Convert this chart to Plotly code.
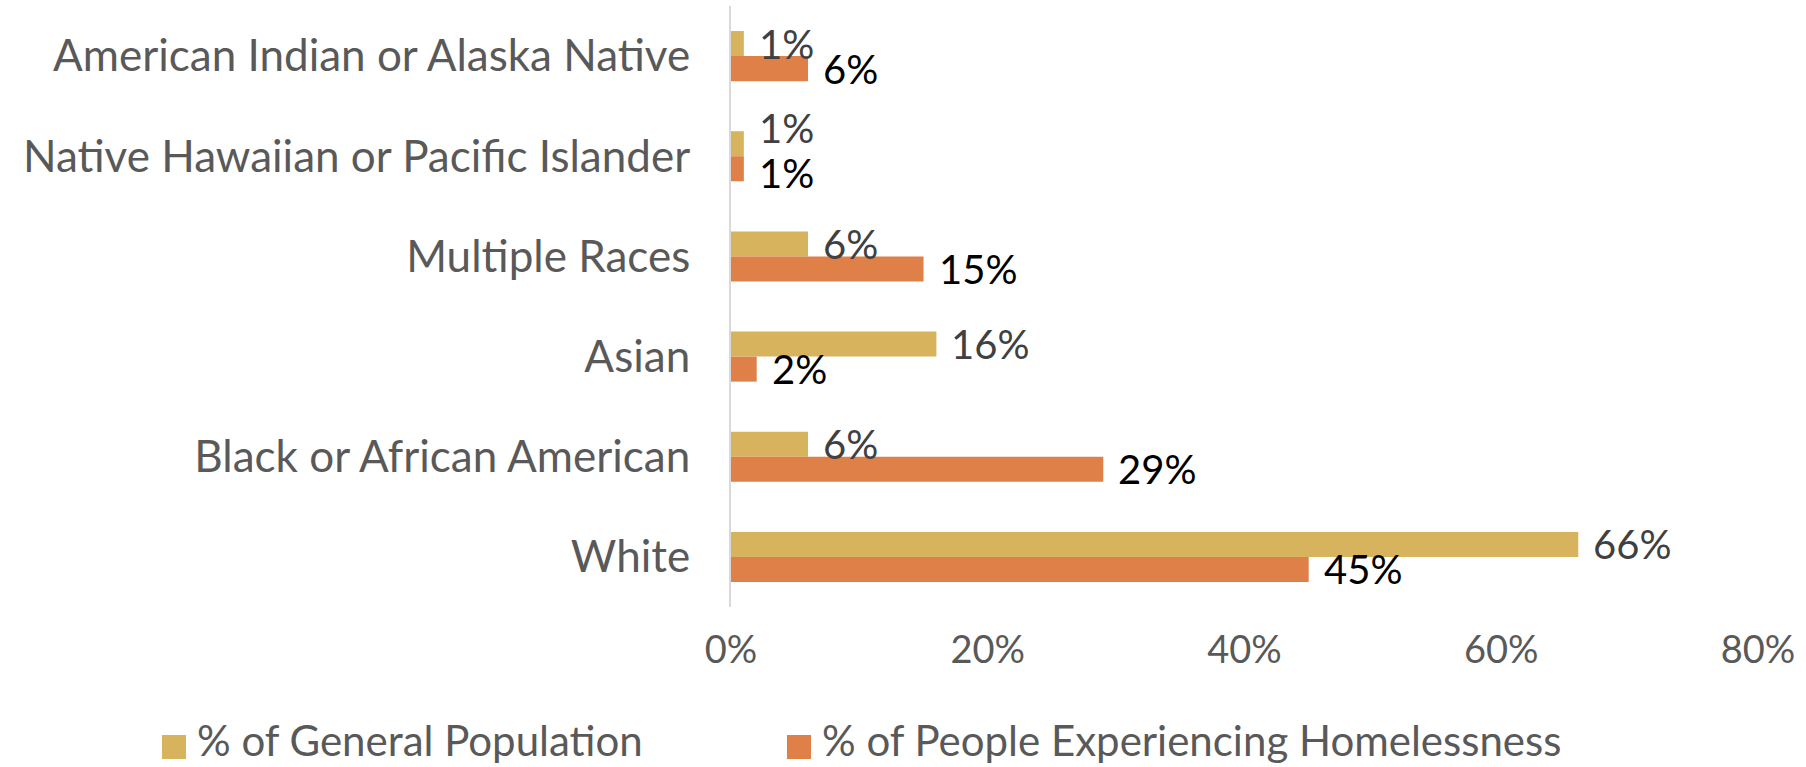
import plotly.graph_objects as go

categories = ["American Indian or Alaska Native", "Native Hawaiian or Pacific Islander",
              "Multiple Races", "Asian", "Black or African American", "White"]
general_population = [0.01, 0.01, 0.06, 0.16, 0.06, 0.66]
homelessness = [0.06, 0.01, 0.15, 0.02, 0.29, 0.45]
series_names = ["% of General Population", "% of People Experiencing Homelessness"]
x_ticks = [0, 0.2, 0.4, 0.6, 0.8]
x_tick_labels = ["0%", "20%", "40%", "60%", "80%"]

FONT = "Lato"
GOLD = "#D8B35D"
ORANGE = "#DE8048"

W, H = 1806, 767
L, R, T, B = 731, 48, 6, 160
PW, PH = W - L - R, H - T - B
BARGAP = 0.5
# offset of each bar centre from its category centre (px): slot * (1-gap) / 4
BAR_HALF = PH / len(categories) * (1 - BARGAP) / 4

fig = go.Figure()
fig.add_trace(go.Bar(
    y=categories, x=general_population, orientation="h",
    name=series_names[0], marker=dict(color=GOLD, line=dict(width=0)),
))
fig.add_trace(go.Bar(
    y=categories, x=homelessness, orientation="h",
    name=series_names[1], marker=dict(color=ORANGE, line=dict(width=0)),
))

# data labels (pushed apart when both values are nearly equal, as in the original)
for cat, g, h in zip(categories, general_population, homelessness):
    crowded = abs(g - h) < 0.03
    for val, shift, col in ((g, BAR_HALF + (16 if crowded else 0), "#404040"),
                            (h, -BAR_HALF - (4 if crowded else 0), "#000000")):
        fig.add_annotation(x=val, y=cat, xref="x", yref="y", text=f"{val:.0%}",
                           showarrow=False, xanchor="left", yanchor="middle",
                           xshift=14, yshift=shift, borderpad=0,
                           font=dict(family=FONT, size=40, color=col))

# custom legend (squares + labels) below the chart
def px_to_paper(px, py):
    return (px - L) / PW, (H - B - py) / PH

legend_items = [(162, GOLD, series_names[0]), (787, ORANGE, series_names[1])]
for sx, col, name in legend_items:
    x0, y0 = px_to_paper(sx, 759)
    x1, y1 = px_to_paper(sx + 24, 735)
    fig.add_shape(type="rect", xref="paper", yref="paper", x0=x0, y0=y0, x1=x1, y1=y1,
                  fillcolor=col, line=dict(width=0))
    tx, ty = px_to_paper(sx + 34, 740)
    fig.add_annotation(xref="paper", yref="paper", x=tx, y=ty, text=name, showarrow=False,
                       xanchor="left", yanchor="middle", borderpad=0,
                       font=dict(family=FONT, size=42, color="#595959"))

fig.update_layout(
    width=W, height=H,
    margin=dict(l=L, r=R, t=T, b=B),
    barmode="group", bargap=BARGAP, bargroupgap=0,
    plot_bgcolor="white", paper_bgcolor="white",
    font=dict(family=FONT, color="#595959"),
    xaxis=dict(range=[0, 0.8], tickvals=x_ticks, ticktext=x_tick_labels,
               showgrid=False, zeroline=False, showline=False,
               tickfont=dict(size=38, color="#595959"), ticklabelstandoff=17),
    yaxis=dict(autorange="reversed", showgrid=False, zeroline=False,
               showline=True, linecolor="#D9D9D9", linewidth=2,
               tickfont=dict(size=44, color="#595959"), ticklabelstandoff=30),
    showlegend=False,
)

fig.write_html("out.html")
